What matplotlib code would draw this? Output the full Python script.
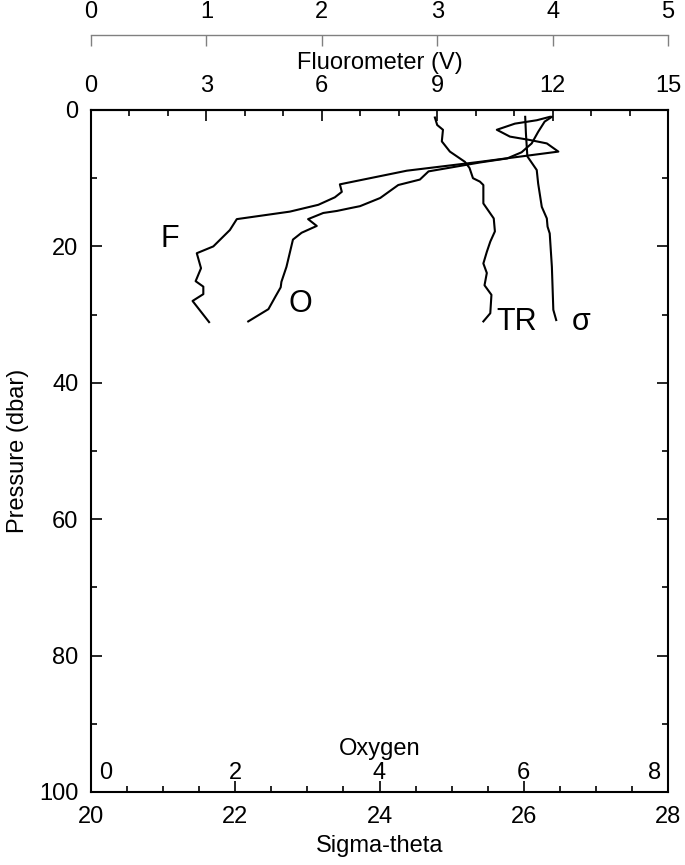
import matplotlib
matplotlib.use('Agg')
import matplotlib.pyplot as plt
from matplotlib.ticker import MultipleLocator
from matplotlib import transforms

# --- fonts ---
plt.rcParams['font.family'] = ['Liberation Sans', 'DejaVu Sans']
plt.rcParams['font.size'] = 17

# --- data ---
# fluorometer, 0-15 scale
f_pres = [1.0, 1.5, 2.0, 2.9, 3.9, 4.4, 4.9, 6.1, 7.6, 8.9, 10.9, 12.0, 12.8,
          13.9, 14.9, 16.0, 17.6, 20.0, 21.0, 23.2, 25.1, 25.9, 27.0, 28.0, 31.1]
f_vals = [11.93, 11.59, 11.02, 10.55, 10.89, 11.41, 11.85, 12.15, 10.11, 8.21,
          6.47, 6.52, 6.34, 5.91, 5.17, 3.79, 3.61, 3.18, 2.75, 2.86, 2.72,
          2.92, 2.92, 2.64, 3.07]

# oxygen, 0-8 scale
o_pres = [1.0, 1.7, 3.2, 4.9, 6.2, 7.1, 7.7, 9.0, 10.2, 11.0, 12.9, 14.1, 14.4,
          14.8, 15.1, 16.0, 17.0, 18.0, 19.0, 23.0, 25.2, 26.0, 27.3, 29.2, 31.0]
o_vals = [6.39, 6.29, 6.20, 6.11, 5.97, 5.77, 5.39, 4.68, 4.56, 4.26, 4.01, 3.73,
          3.59, 3.41, 3.22, 3.01, 3.13, 2.92, 2.80, 2.71, 2.64, 2.63, 2.56,
          2.46, 2.18]

# transmissometer, 0-5 scale
tr_pres = [1.1, 2.2, 2.9, 4.6, 6.1, 7.6, 8.5, 10.0, 10.5, 11.0, 13.7, 15.9, 17.8,
           19.3, 20.8, 22.5, 23.9, 25.7, 27.1, 29.8, 31.0]
tr_vals = [2.98, 3.00, 3.05, 3.04, 3.11, 3.24, 3.28, 3.31, 3.37, 3.40, 3.40,
           3.49, 3.50, 3.46, 3.43, 3.40, 3.43, 3.41, 3.47, 3.46, 3.40]

# sigma-theta
s_pres = [1.0, 3.4, 6.8, 8.8, 10.8, 14.2, 15.9, 17.1, 18.1, 23.0, 29.3, 30.8]
s_vals = [26.02, 26.03, 26.05, 26.18, 26.20, 26.25, 26.32, 26.33, 26.36, 26.39,
          26.41, 26.45]

oxy_ticks = [0, 2, 4, 6, 8]

W, H = 685, 865
fig = plt.figure(figsize=(W / 100, H / 100), dpi=100)
ax = fig.add_axes([91 / W, 73 / H, 577 / W, 682 / H])

lw_line = 1.5
tick_kw = dict(direction='in', width=1.2, colors='black')

# main axes: sigma-theta / pressure
ax.set_xlim(20, 28)
ax.set_ylim(100, 0)
ax.xaxis.set_major_locator(MultipleLocator(2))
ax.xaxis.set_minor_locator(MultipleLocator(0.5))
ax.yaxis.set_major_locator(MultipleLocator(20))
ax.yaxis.set_minor_locator(MultipleLocator(10))
ax.tick_params(which='both', top=False, right=True, **tick_kw)
ax.tick_params(which='major', length=8)
ax.tick_params(which='minor', length=4)
ax.tick_params(axis='x', pad=10)
ax.tick_params(axis='y', pad=9)
for sp in ax.spines.values():
    sp.set_linewidth(1.5)
ax.set_xlabel('Sigma-theta', labelpad=5)
ax.set_ylabel('Pressure (dbar)', labelpad=7)
ax.plot(s_vals, s_pres, color='black', lw=lw_line)

# fluorometer axis on the top spine
axf = ax.twiny()
axf.set_xlim(0, 15)
axf.xaxis.set_major_locator(MultipleLocator(3))
axf.xaxis.set_minor_locator(MultipleLocator(1))
axf.tick_params(which='both', **tick_kw)
axf.tick_params(which='major', length=8, pad=9)
axf.tick_params(which='minor', length=4)
for side in ['left', 'right', 'bottom']:
    axf.spines[side].set_visible(False)
axf.spines['top'].set_linewidth(1.5)
axf.set_xlabel('Fluorometer (V)', labelpad=5)
axf.plot(f_vals, f_pres, color='black', lw=lw_line)

# transmissometer axis, detached above the plot
axt = ax.twiny()
axt.set_xlim(0, 5)
axt.xaxis.set_major_locator(MultipleLocator(1))
axt.spines['top'].set_position(('axes', (792 - 35) / 682))
axt.spines['top'].set_color('#808080')
axt.spines['top'].set_linewidth(1.0)
for side in ['left', 'right', 'bottom']:
    axt.spines[side].set_visible(False)
axt.tick_params(direction='in', length=8, width=1.0, color='#808080',
                labelcolor='black', pad=9)
axt.plot(tr_vals, tr_pres, color='black', lw=lw_line)

# oxygen axis, labels inside the plot above the bottom spine
axo = ax.twiny()
axo.set_xlim(0, 8)
for sp in axo.spines.values():
    sp.set_visible(False)
axo.set_xticks([])
axo.plot(o_vals, o_pres, color='black', lw=lw_line)
base = transforms.blended_transform_factory(axo.transData, ax.transAxes)
for v in oxy_ticks:
    if v == oxy_ticks[0]:
        ha, dx = 'left', 8
    elif v == oxy_ticks[-1]:
        ha, dx = 'right', -7
    else:
        ha, dx = 'center', 0
    tr = transforms.offset_copy(base, fig=fig, x=dx, y=0, units='dots')
    axo.text(v, 0.019, str(v), transform=tr, ha=ha, va='baseline')
axo.text(4, 0.054, 'Oxygen', transform=base, ha='center', va='baseline')

# curve labels
lab_kw = dict(fontsize=22, color='black')
ax.text(20.96, 20.1, 'F', ha='left', va='baseline', **lab_kw)
ax.text(22.90, 28.4, 'O', ha='center', va='center', **lab_kw)
ax.text(25.62, 32.3, 'TR', ha='left', va='baseline', **lab_kw)
ax.text(26.67, 32.3, 'σ', ha='left', va='baseline', **lab_kw)

fig.savefig('out.png', dpi=100)
